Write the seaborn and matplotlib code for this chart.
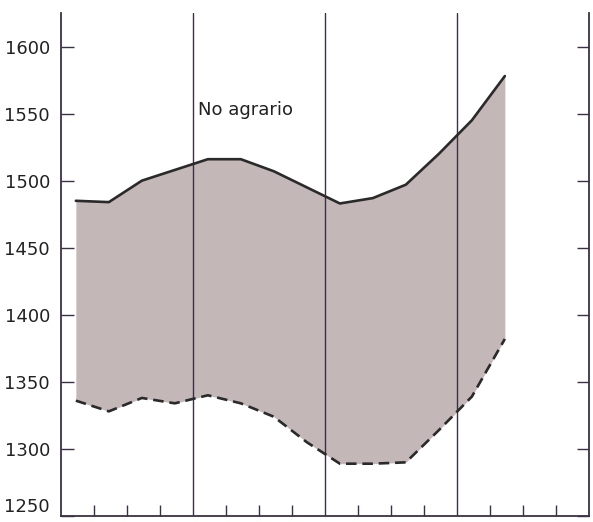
import matplotlib
matplotlib.use("Agg")
import matplotlib.pyplot as plt
import numpy as np
import pandas as pd
import seaborn as sns

# positions along the time axis (1 unit = one minor tick)
periods = [0.45, 1.45, 2.45, 3.45, 4.45, 5.45, 6.45, 7.45, 8.45, 9.45, 10.45, 11.45, 12.45, 13.45]
upper = [1485, 1484, 1500, 1508, 1516, 1516, 1507, 1495, 1483, 1487, 1497, 1520, 1545, 1578]
lower = [1336, 1328, 1338, 1334, 1340, 1334, 1324, 1305, 1289, 1289, 1290, 1314, 1339, 1382]
y_ticks = [1250, 1300, 1350, 1400, 1450, 1500, 1550, 1600]
major_lines = [4, 8, 12]
minor_ticks = [1, 2, 3, 5, 6, 7, 9, 10, 11, 13, 14, 15]
label = "No agrario"

df = pd.DataFrame({"x": periods, "upper": upper, "lower": lower})

sns.set_style("white")
plt.rcParams["font.family"] = ["DejaVu Sans"]

ink = "#2a2a2a"
axis_col = "#3b3046"
fill_col = "#c4b7b8"

fig = plt.figure(figsize=(5.93, 5.22), dpi=100)
ax = fig.add_axes([61 / 593, 6 / 522, 528 / 593, 503 / 522])

ax.fill_between(df["x"], df["lower"], df["upper"], color=fill_col, lw=0, zorder=1)
sns.lineplot(data=df, x="x", y="upper", ax=ax, color=ink, lw=1.9, zorder=3)
sns.lineplot(data=df, x="x", y="lower", ax=ax, color=ink, lw=1.9, zorder=3,
             dashes=False, linestyle=(0, (4, 2.2)))

for xv in major_lines:
    ax.axvline(xv, color=axis_col, lw=1.0, zorder=2)

ax.set_xlim(0, 16)
ax.set_ylim(1250, 1625)

ax.set_xticks(minor_ticks)
ax.set_xticklabels([])
ax.set_yticks(y_ticks)
ax.set_yticklabels([str(v) for v in y_ticks], fontsize=13, color="#222222")
# the lowest label sits just above the baseline, as in the original
ax.get_yticklabels()[0].set_va("bottom")
ax.tick_params(axis="x", direction="in", length=8, width=1, color=axis_col,
               bottom=True, top=False)
ax.tick_params(axis="y", direction="in", length=9, width=1, color=axis_col,
               right=True, left=True, pad=8)

for side in ["left", "right", "bottom"]:
    ax.spines[side].set_visible(True)
    ax.spines[side].set_color(axis_col)
    ax.spines[side].set_linewidth(1.3)
ax.spines["top"].set_visible(False)

ax.set_xlabel("")
ax.set_ylabel("")
ax.text(5.6, 1553, label, fontsize=13, ha="center", va="center", color="#222222")

fig.savefig("out.png", dpi=100)
